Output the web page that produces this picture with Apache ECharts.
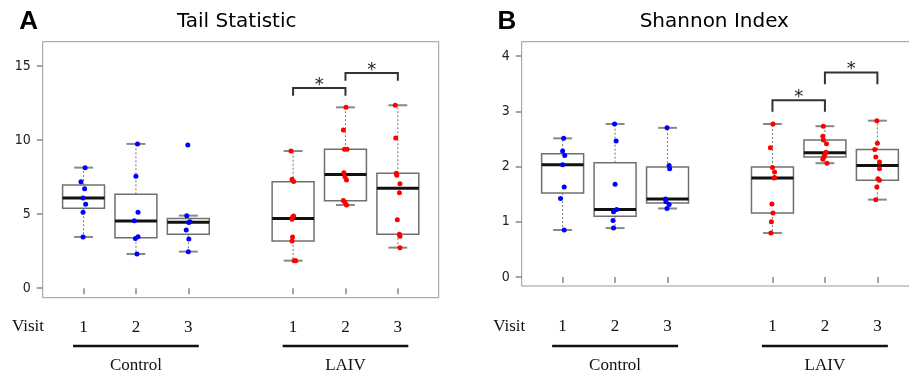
<!DOCTYPE html>
<html>
<head>
<meta charset="utf-8">
<script src="https://cdn.jsdelivr.net/npm/echarts@6/dist/echarts.min.js"></script>
<style>
  html, body { margin: 0; padding: 0; background: #fff; }
  #chart { width: 909px; height: 378px; }
</style>
</head>
<body>
<div id="chart"></div>
<script>
// x positions of the visits on each panel (gap at 4 between groups)
const visitPos = [1, 2, 3, 5, 6, 7]
const visitLabels = ['1', '2', '3', '1', '2', '3']
const groupSpans = [[0.8, 3.2, 0], [4.8, 7.2, 0]]
const groupNames = ['Control', 'LAIV']

// box stats: [pos, lowWhisker, q1, median, q3, highWhisker]
const tailBoxes = [
  [1, 3.46, 5.40, 6.09, 6.97, 8.14],
  [2, 2.31, 3.41, 4.54, 6.34, 9.74],
  [3, 2.47, 3.64, 4.45, 4.70, 4.90],
  [5, 1.86, 3.19, 4.70, 7.19, 9.26],
  [6, 5.62, 5.91, 7.67, 9.38, 12.21],
  [7, 2.74, 3.64, 6.75, 7.76, 12.35]
]
const shannonBoxes = [
  [1, 0.85, 1.52, 2.03, 2.23, 2.51],
  [2, 0.885, 1.10, 1.22, 2.07, 2.77],
  [3, 1.24, 1.34, 1.41, 1.99, 2.70],
  [5, 0.795, 1.16, 1.79, 1.99, 2.77],
  [6, 2.06, 2.17, 2.25, 2.48, 2.73],
  [7, 1.40, 1.75, 2.02, 2.31, 2.83]
]

// individual subjects [jittered x, value]
const tailControlPts = [
  [1.03, 8.14], [0.95, 7.19], [1.02, 6.72], [0.99, 6.09], [1.04, 5.67], [0.99, 5.13], [0.99, 3.46],
  [2.03, 9.74], [2.00, 7.56], [2.04, 5.13], [1.97, 4.56], [2.04, 3.48], [1.99, 3.35], [2.02, 2.31],
  [2.99, 9.67], [2.97, 4.90], [3.03, 4.49], [3.01, 4.44], [2.96, 3.93], [3.01, 3.33], [3.00, 2.47]
]
const tailLaivPts = [
  [4.96, 9.26], [4.98, 7.35], [5.01, 7.21], [5.01, 4.88], [4.99, 4.81], [4.98, 4.65], [4.99, 3.46], [4.98, 3.19], [5.02, 1.86], [5.05, 1.86],
  [6.01, 12.21], [5.96, 10.68], [5.98, 9.38], [6.03, 9.38], [5.97, 7.80], [5.99, 7.53], [6.02, 7.31], [5.96, 5.92], [5.99, 5.80], [6.02, 5.62],
  [6.95, 12.35], [6.96, 10.14], [6.97, 7.76], [6.98, 7.62], [7.04, 7.06], [7.03, 6.45], [6.99, 4.63], [7.03, 3.64], [7.04, 3.51], [7.04, 2.74]
]
const shannonControlPts = [
  [1.02, 2.51], [1.00, 2.28], [1.04, 2.20], [1.00, 2.03], [1.03, 1.63], [0.96, 1.42], [1.03, 0.85],
  [1.99, 2.77], [2.02, 2.46], [2.00, 1.68], [2.03, 1.22], [1.97, 1.18], [1.96, 1.02], [1.97, 0.885],
  [2.99, 2.70], [3.03, 2.02], [3.04, 1.96], [2.96, 1.41], [2.97, 1.36], [3.03, 1.31], [2.99, 1.24]
]
const shannonLaivPts = [
  [5.01, 2.77], [4.96, 2.34], [5.00, 1.98], [5.04, 1.90], [5.04, 1.80], [5.03, 1.79], [4.99, 1.32], [5.01, 1.16], [4.98, 1.00], [4.97, 0.795],
  [5.97, 2.73], [5.96, 2.55], [5.97, 2.48], [6.03, 2.41], [6.02, 2.26], [6.01, 2.24], [5.99, 2.19], [5.98, 2.17], [5.96, 2.13], [6.04, 2.06],
  [6.99, 2.83], [7.00, 2.42], [6.95, 2.31], [6.97, 2.17], [7.04, 2.08], [7.04, 1.96], [7.01, 1.78], [7.04, 1.75], [6.99, 1.63], [6.97, 1.40]
]

// significance brackets: [x1, x2, barY, legY]
const tailBrackets = [[5, 6, 13.52, 13.0], [6, 7, 14.53, 14.0]]
const shannonBrackets = [[5, 6, 3.20, 2.99], [6, 7, 3.70, 3.49]]

const tailTicks = [0, 5, 10, 15]
const shannonTicks = [0, 1, 2, 3, 4]

const SERIF = '"Liberation Serif", "DejaVu Serif", serif'
const SANS = '"DejaVu Sans", Verdana, sans-serif'
const NARROW = '"Liberation Sans Narrow", "DejaVu Sans Condensed", sans-serif'
const LINE_Y = 346
const NAME_Y = 366

const chart = echarts.init(document.getElementById('chart'), null, { renderer: 'canvas' })

function renderBox(params, api) {
  const x = api.value(0)
  const hw = 0.4, cw = 0.18
  const lo = api.coord([x, api.value(1)])
  const q1 = api.coord([x, api.value(2)])
  const md = api.coord([x, api.value(3)])
  const q3 = api.coord([x, api.value(4)])
  const hi = api.coord([x, api.value(5)])
  const left = api.coord([x - hw, 0])[0]
  const right = api.coord([x + hw, 0])[0]
  const cl = api.coord([x - cw, 0])[0]
  const cr = api.coord([x + cw, 0])[0]
  const dotted = { stroke: '#777', lineWidth: 1, lineDash: [2, 2] }
  const cap = { stroke: '#888', lineWidth: 2 }
  return {
    type: 'group',
    children: [
      { type: 'line', shape: { x1: q3[0], y1: q3[1], x2: hi[0], y2: hi[1] }, style: dotted },
      { type: 'line', shape: { x1: q1[0], y1: q1[1], x2: lo[0], y2: lo[1] }, style: dotted },
      { type: 'line', shape: { x1: cl, y1: hi[1], x2: cr, y2: hi[1] }, style: cap },
      { type: 'line', shape: { x1: cl, y1: lo[1], x2: cr, y2: lo[1] }, style: cap },
      { type: 'rect', shape: { x: left, y: q3[1], width: right - left, height: q1[1] - q3[1] },
        style: { fill: null, stroke: '#707070', lineWidth: 1.5 } },
      { type: 'line', shape: { x1: left, y1: md[1], x2: right, y2: md[1] }, style: { stroke: '#111', lineWidth: 3 } }
    ]
  }
}

function renderBracket(params, api) {
  const a = api.coord([api.value(0), api.value(3)])
  const b = api.coord([api.value(0), api.value(2)])
  const c = api.coord([api.value(1), api.value(2)])
  const d = api.coord([api.value(1), api.value(3)])
  return {
    type: 'group',
    children: [
      { type: 'polyline', shape: { points: [a, b, c, d] }, style: { fill: null, stroke: '#333', lineWidth: 2 } },
      { type: 'text', x: (b[0] + c[0]) / 2, y: b[1] - 3,
        style: { text: '*', font: '18px ' + SANS, fill: '#222', align: 'center', verticalAlign: 'middle' } }
    ]
  }
}

function renderGroup(params, api) {
  const s = api.coord([api.value(0), 0])[0]
  const e = api.coord([api.value(1), 0])[0]
  return {
    type: 'group',
    children: [
      { type: 'line', shape: { x1: s, y1: LINE_Y, x2: e, y2: LINE_Y }, style: { stroke: '#111', lineWidth: 2.5 } },
      { type: 'text', x: (s + e) / 2, y: NAME_Y,
        style: { text: groupNames[params.dataIndex], font: '17px ' + SERIF, fill: '#111', align: 'center', verticalAlign: 'middle' } }
    ]
  }
}

function xAxisFor(gridIndex, margin) {
  return {
    gridIndex, type: 'value', min: 0.22, max: 7.78,
    axisLine: { show: false },
    splitLine: { show: false },
    axisTick: { show: true, customValues: visitPos, length: 6, lineStyle: { color: '#888', width: 1.5 } },
    axisLabel: {
      show: true, customValues: visitPos, margin,
      formatter: v => visitLabels[visitPos.indexOf(v)],
      fontFamily: SERIF, fontSize: 17, color: '#111'
    }
  }
}

function yAxisFor(gridIndex, min, max, ticks) {
  return {
    gridIndex, type: 'value', min, max,
    axisLine: { show: false },
    splitLine: { show: false },
    axisTick: { show: true, customValues: ticks, length: 6, lineStyle: { color: '#888', width: 1.5 } },
    axisLabel: { show: true, customValues: ticks, margin: 12, fontFamily: NARROW, fontSize: 14, color: '#222' }
  }
}

function panelSeries(idx, boxes, ctrlPts, laivPts, brackets) {
  return [
    { type: 'custom', xAxisIndex: idx, yAxisIndex: idx, renderItem: renderBox, data: boxes,
      encode: { x: 0, y: [1, 2, 3, 4, 5] }, silent: true },
    { type: 'scatter', xAxisIndex: idx, yAxisIndex: idx, data: ctrlPts, symbolSize: 5,
      itemStyle: { color: '#0000ff', opacity: 1 }, silent: true },
    { type: 'scatter', xAxisIndex: idx, yAxisIndex: idx, data: laivPts, symbolSize: 5,
      itemStyle: { color: '#ff0000', opacity: 1 }, silent: true },
    { type: 'custom', xAxisIndex: idx, yAxisIndex: idx, renderItem: renderBracket, data: brackets,
      encode: { x: [0, 1], y: [2, 3] }, silent: true },
    { type: 'custom', xAxisIndex: idx, yAxisIndex: idx, renderItem: renderGroup, data: groupSpans,
      encode: { x: [0, 1], y: 2 }, clip: false, silent: true }
  ]
}

const gridBase = { show: true, borderColor: '#999', borderWidth: 1, backgroundColor: 'transparent',
  containLabel: false, outerBoundsMode: 'none' }

const option = {
  animation: false,
  backgroundColor: '#fff',
  grid: [
    { ...gridBase, left: 42.7, top: 41.7, width: 396, height: 256 },
    { ...gridBase, left: 521.7, top: 41.7, width: 396.6, height: 244.3 }
  ],
  xAxis: [xAxisFor(0, 21), xAxisFor(1, 32.5)],
  yAxis: [yAxisFor(0, -0.64, 16.64, tailTicks), yAxisFor(1, -0.164, 4.26, shannonTicks)],
  graphic: [
    { type: 'text', x: 28.7, y: 21.5, style: { text: 'A', font: 'bold 26px "Liberation Sans", Arial, sans-serif', fill: '#000', align: 'center', verticalAlign: 'middle' } },
    { type: 'text', x: 236.7, y: 22, style: { text: 'Tail Statistic', font: '20px ' + SANS, fill: '#000', align: 'center', verticalAlign: 'middle' } },
    { type: 'text', x: 507, y: 21.5, style: { text: 'B', font: 'bold 26px "Liberation Sans", Arial, sans-serif', fill: '#000', align: 'center', verticalAlign: 'middle' } },
    { type: 'text', x: 714.3, y: 22, style: { text: 'Shannon Index', font: '20px ' + SANS, fill: '#000', align: 'center', verticalAlign: 'middle' } },
    { type: 'text', x: 28, y: 327, style: { text: 'Visit', font: '17px ' + SERIF, fill: '#111', align: 'center', verticalAlign: 'middle' } },
    { type: 'text', x: 509.3, y: 327, style: { text: 'Visit', font: '17px ' + SERIF, fill: '#111', align: 'center', verticalAlign: 'middle' } }
  ],
  series: [
    ...panelSeries(0, tailBoxes, tailControlPts, tailLaivPts, tailBrackets),
    ...panelSeries(1, shannonBoxes, shannonControlPts, shannonLaivPts, shannonBrackets)
  ]
}

chart.setOption(option)
window.addEventListener('resize', () => chart.resize())
</script>
</body>
</html>
